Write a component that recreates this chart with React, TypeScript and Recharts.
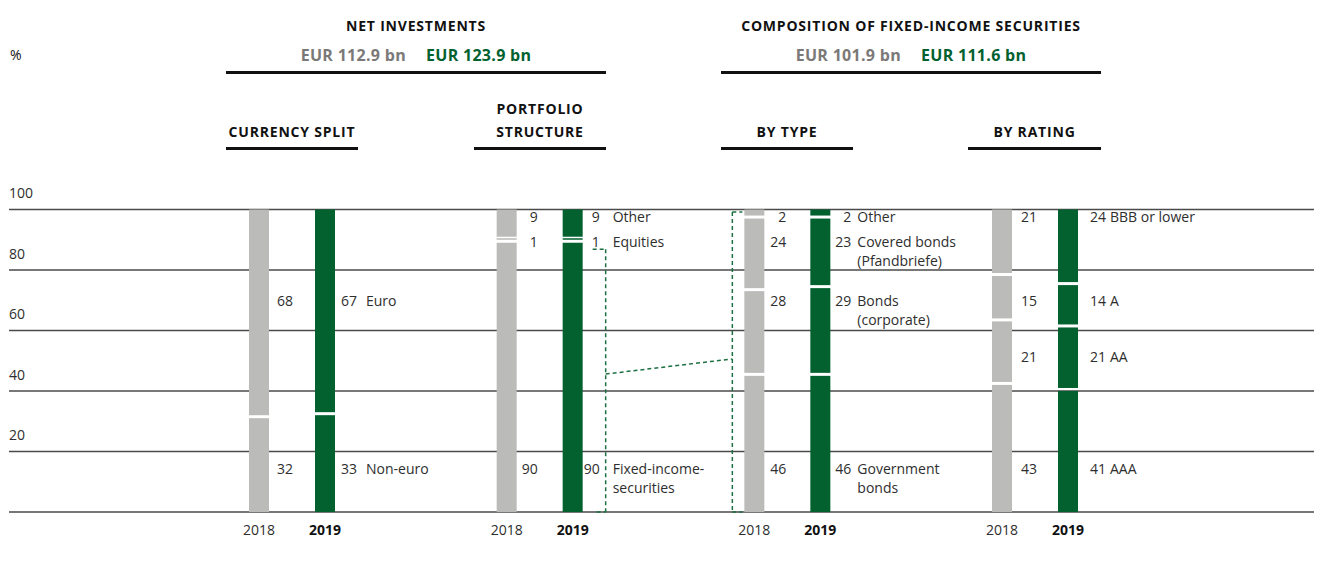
import React from "react";
import { Bar, BarChart, CartesianGrid, ReferenceDot, ReferenceLine, XAxis, YAxis } from "recharts";

const YEARS = ["2018", "2019"];
const GROUP_TITLES = [["CURRENCY SPLIT"], ["PORTFOLIO", "STRUCTURE"], ["BY TYPE"], ["BY RATING"]];

// segments listed bottom to top
const currency2018 = [32, 68];
const currency2019 = [33, 67];
const currencyNames = [["Non-euro"], ["Euro"]];

const portfolio2018 = [90, 1, 9];
const portfolio2019 = [90, 1, 9];
const portfolioNames = [["Fixed-income-", "securities"], ["Equities"], ["Other"]];

const type2018 = [46, 28, 24, 2];
const type2019 = [46, 29, 23, 2];
const typeNames = [["Government", "bonds"], ["Bonds", "(corporate)"], ["Covered bonds", "(Pfandbriefe)"], ["Other"]];

const rating2018 = [43, 21, 15, 21];
const rating2019 = [41, 21, 14, 24];
const ratingNames = [["AAA"], ["AA"], ["A"], ["BBB or lower"]];

const netInvestments = ["EUR 112.9 bn", "EUR 123.9 bn"];
const fixedIncomeTotal = ["EUR 101.9 bn", "EUR 111.6 bn"];

const Y_TICKS = [0, 20, 40, 60, 80, 100];
const Y_LABELS = [20, 40, 60, 80, 100];

const GRAY = "#bbbbba";
const GREEN = "#02612f";
const DASH = "#1d7042";
const TEXT = "#2e2e2e";
const FONT = '"Open Sans", sans-serif';

const W = 1314;
const H = 547;
const STEP = 247.67; // px between groups
const PX = 1 / STEP; // x data units per pixel
const YEAR_GAP = 66 * PX;
const BAR_W = 20;
const X_DOMAIN = [-1.0094, 4.292];

const groups = [
  { v18: currency2018, v19: currency2019, names: currencyNames, rows: [14.2, 69.6], num18: 24, num19: 22, name19: 31 },
  { v18: portfolio2018, v19: portfolio2019, names: portfolioNames, rows: [14.2, 89.1, 97.4], num18: 21, num19: 17, name19: 30 },
  { v18: type2018, v19: type2019, names: typeNames, rows: [14.2, 69.6, 89.1, 97.4], num18: 22, num19: 21, name19: 27 },
  { v18: rating2018, v19: rating2019, names: ratingNames, rows: [14.2, 51.3, 69.6, 97.4], num18: 25, num19: 28, name19: 32 }
];

const rows = groups.flatMap((g, gi) =>
  YEARS.map((year, yi) => {
    const vals = yi === 0 ? g.v18 : g.v19;
    return {
      x: gi + yi * YEAR_GAP,
      year,
      vals,
      s0: vals[0] ?? 0,
      s1: vals[1] ?? 0,
      s2: vals[2] ?? 0,
      s3: vals[3] ?? 0
    };
  })
);

const KEYS = ["s0", "s1", "s2", "s3"];

const makeShape = (k: number) => (props: any) => {
  const { x, y, width, height, payload } = props;
  if (!height || height <= 0) return <g />;
  const vals: number[] = payload.vals;
  const isTop = vals.slice(k + 1).every((v) => !v);
  const gap = isTop ? 0 : Math.min(3, height / 2);
  const fill = payload.year === "2019" ? GREEN : GRAY;
  return <rect x={x} y={y + gap} width={width} height={Math.max(0, height - gap)} fill={fill} />;
};

function XTick(props: any) {
  const { x, y, payload } = props;
  const row = rows.find((r) => Math.abs(r.x - payload.value) < 1e-6);
  const is2019 = row?.year === "2019";
  return (
    <text x={x} y={y + 16} dy="0.35em" textAnchor="middle" fontSize={14} fontWeight={is2019 ? 700 : 400} fill={is2019 ? "#111" : TEXT} fontFamily={FONT}>
      {row?.year}
    </text>
  );
}

const EmptyTick = () => <g />;

function labelShape(text: string[], offset: number, anchor: "start" | "end") {
  return (props: any) => {
    const { cx, cy } = props;
    return (
      <text x={cx + BAR_W / 2 + offset} y={cy} fontSize={14} fill={TEXT} fontFamily={FONT} textAnchor={anchor}>
        {text.map((t, i) => (
          <tspan key={i} x={cx + BAR_W / 2 + offset} dy={i === 0 ? "0.35em" : 19}>
            {t}
          </tspan>
        ))}
      </text>
    );
  };
}

const yLabelShape = (v: number) => (props: any) => (
  <text x={props.cx} y={props.cy - 16} dy="0.35em" fontSize={14} fill={TEXT} fontFamily={FONT}>
    {v}
  </text>
);

function Header({ left, width, top, lines, rule }: { left: number; width: number; top: number; lines: string[]; rule: number }) {
  return (
    <>
      {lines.map((l, i) => (
        <div
          key={l}
          style={{
            position: "absolute",
            left,
            width,
            top: top + i * 23 - 9,
            lineHeight: "18px",
            textAlign: "center",
            fontSize: 14,
            fontWeight: 700,
            letterSpacing: 0.8,
            color: "#111"
          }}
        >
          {l}
        </div>
      ))}
      <div style={{ position: "absolute", left, width, top: rule, height: 3, background: "#111" }} />
    </>
  );
}

function Totals({ left, width, values }: { left: number; width: number; values: string[] }) {
  return (
    <div style={{ position: "absolute", left, width, top: 37, lineHeight: "20px", textAlign: "center", fontSize: 16, fontWeight: 700, letterSpacing: 0.3 }}>
      <span style={{ color: "#7b7977" }}>{values[0]}</span>
      <span style={{ color: GREEN, marginLeft: 20 }}>{values[1]}</span>
    </div>
  );
}

export default function App() {
  const xPS19 = 1 + YEAR_GAP;
  const xBT18 = 2;
  const dash = { stroke: DASH, strokeWidth: 1.5, strokeDasharray: "4 3" };

  return (
    <div style={{ position: "relative", width: W, height: H, fontFamily: FONT, color: TEXT }}>
      <div style={{ position: "absolute", left: 2, top: 38, fontSize: 14, lineHeight: "18px", color: "#111" }}>%</div>

      <Header left={218} width={380} top={18} lines={["NET INVESTMENTS"]} rule={63} />
      <Totals left={218} width={380} values={netInvestments} />
      <Header left={713} width={380} top={18} lines={["COMPOSITION OF FIXED-INCOME SECURITIES"]} rule={63} />
      <Totals left={713} width={380} values={fixedIncomeTotal} />

      <Header left={218} width={132} top={124} lines={GROUP_TITLES[0]} rule={139} />
      <Header left={466} width={132} top={101} lines={GROUP_TITLES[1]} rule={139} />
      <Header left={713} width={132} top={124} lines={GROUP_TITLES[2]} rule={139} />
      <Header left={960} width={133} top={124} lines={GROUP_TITLES[3]} rule={139} />

      <div style={{ position: "absolute", left: 0, top: 0 }}>
        <BarChart width={W} height={H} data={rows} margin={{ top: 201.5, right: 0, bottom: 0, left: 1 }} barSize={BAR_W}>
          <CartesianGrid horizontal vertical={false} stroke="#4a4a4a" strokeWidth={1.5} />
          <XAxis
            type="number"
            dataKey="x"
            domain={X_DOMAIN}
            ticks={rows.map((r) => r.x)}
            interval={0}
            tick={<XTick />}
            axisLine={false}
            tickLine={false}
            tickSize={0}
            height={43}
            allowDataOverflow
          />
          <YAxis type="number" domain={[0, 100]} ticks={Y_TICKS} interval={0} width={0} axisLine={false} tickLine={false} tick={<EmptyTick />} />
          {KEYS.map((k, i) => (
            <Bar key={k} dataKey={k} stackId="a" isAnimationActive={false} shape={makeShape(i)} />
          ))}

          {Y_LABELS.map((v) => (
            <ReferenceDot key={`y${v}`} x={X_DOMAIN[0]} y={v} r={0} ifOverflow="visible" shape={yLabelShape(v)} />
          ))}

          {groups.flatMap((g, gi) =>
            g.rows.flatMap((rowY, k) => {
              const x18 = gi;
              const x19 = gi + YEAR_GAP;
              return [
                <ReferenceDot key={`a${gi}${k}`} x={x18} y={rowY} r={0} shape={labelShape([String(g.v18[k])], g.num18, "end")} />,
                <ReferenceDot key={`b${gi}${k}`} x={x19} y={rowY} r={0} shape={labelShape([String(g.v19[k])], g.num19, "end")} />,
                <ReferenceDot key={`c${gi}${k}`} x={x19} y={rowY} r={0} shape={labelShape(g.names[k], g.name19, "start")} />
              ];
            })
          )}

          {/* bracket from fixed-income securities to the composition bars */}
          <ReferenceLine segment={[{ x: xPS19 + 20 * PX, y: 86.9 }, { x: xPS19 + 33 * PX, y: 86.9 }]} {...dash} />
          <ReferenceLine segment={[{ x: xPS19 + 33 * PX, y: 86.9 }, { x: xPS19 + 33 * PX, y: 0 }]} {...dash} />
          <ReferenceLine segment={[{ x: xPS19 + 24 * PX, y: 0 }, { x: xPS19 + 33 * PX, y: 0 }]} {...dash} />
          <ReferenceLine segment={[{ x: xPS19 + 33 * PX, y: 45.6 }, { x: xBT18 - 22 * PX, y: 50.6 }]} {...dash} />
          <ReferenceLine segment={[{ x: xBT18 - 22 * PX, y: 99.2 }, { x: xBT18 - 12 * PX, y: 99.2 }]} {...dash} />
          <ReferenceLine segment={[{ x: xBT18 - 22 * PX, y: 99.2 }, { x: xBT18 - 22 * PX, y: 0 }]} {...dash} />
          <ReferenceLine segment={[{ x: xBT18 - 22 * PX, y: 0 }, { x: xBT18 - 12 * PX, y: 0 }]} {...dash} />
        </BarChart>
      </div>
    </div>
  );
}
